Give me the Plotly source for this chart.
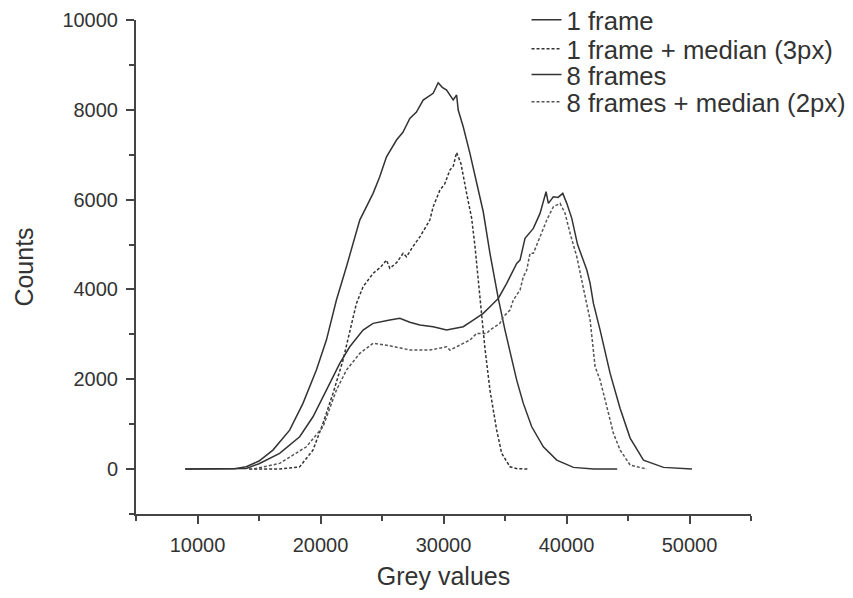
import plotly.graph_objects as go

# ---- data ----
series_names = ["1 frame", "1 frame + median (3px)", "8 frames", "8 frames + median (2px)"]

a_x = [9000, 12000, 13000, 13966, 15000, 16131, 17491, 18574, 19666, 20480, 21294, 22108, 22515, 23192,
       24275, 24800, 25366, 26180, 26700, 27263, 27800, 28346, 29160, 29567, 29900, 30251, 30789, 31066,
       31196, 31603, 32149, 32694, 33232, 33777, 34453, 34999, 35675, 35951, 36489, 37173, 38117, 39208,
       40560, 42189, 44120]
a_y = [0, 0, 10, 51, 180, 423, 868, 1463, 2205, 2873, 3764, 4505, 4877, 5545,
       6140, 6500, 6955, 7327, 7500, 7810, 7950, 8218, 8367, 8603, 8500, 8440, 8218, 8329,
       7995, 7623, 7030, 6400, 5730, 4804, 3800, 3095, 2278, 1982, 1463, 942, 497, 200,
       38, 0, 0]

c_x = [14200, 16677, 18306, 19389, 20203, 21017, 21832, 22377, 22923, 23460, 24275, 24900, 25366, 25635,
       26200, 26718, 26994, 27500, 28077, 28891, 29160, 29706, 30100, 30520, 30800, 31066, 31415, 31880,
       32287, 32556, 32825, 33102, 33370, 33777, 34323, 34730, 35406, 36000, 36896]
c_y = [0, 0, 50, 423, 1018, 1686, 2427, 3095, 3690, 4060, 4358, 4500, 4654, 4470,
       4600, 4804, 4728, 4950, 5170, 5545, 5842, 6210, 6350, 6659, 6750, 7050, 6808, 6140,
       5590, 4970, 4210, 3430, 2690, 1760, 869, 350, 51, 10, 0]

b_x = [9000, 12000, 13000, 13966, 15000, 16677, 18306, 19389, 20480, 21566, 22377, 23460, 24275, 24820,
       25635, 26450, 27263, 28077, 29160, 30251, 31603, 32417, 33232, 33777, 34453, 35137, 35951, 36221,
       36628, 37303, 37849, 38338, 38525, 38932, 39315, 39697, 40023, 40430, 40900, 41652, 41920, 42189,
       42733, 43546, 44360, 45175, 46258, 47887, 50200]
b_y = [0, 0, 5, 15, 120, 350, 720, 1165, 1760, 2354, 2724, 3095, 3245, 3280,
       3320, 3360, 3270, 3207, 3170, 3095, 3170, 3318, 3467, 3614, 3800, 4135, 4580, 4654,
       5138, 5360, 5694, 6176, 5917, 6064, 6050, 6140, 5917, 5583, 5000, 4432, 4135, 3690,
       3095, 2130, 1350, 690, 200, 38, 0]

d_x = [14200, 14503, 16677, 18851, 20203, 21294, 22108, 23192, 24275, 25366, 26450, 27263, 28077, 28891,
       30251, 30520, 31603, 32149, 32694, 33509, 33777, 34584, 34860, 35406, 35675, 36221, 36489, 36766,
       37034, 37303, 37849, 38394, 38932, 39478, 39885, 40292, 40837, 41376, 41920, 42327, 42733, 43280,
       43816, 44360, 44910, 45175, 46535]
d_y = [0, 0, 127, 497, 942, 1760, 2205, 2577, 2800, 2760, 2700, 2650, 2650, 2650,
       2724, 2650, 2800, 2873, 3022, 3022, 3095, 3245, 3392, 3541, 3764, 3986, 4283, 4432,
       4804, 4804, 5173, 5545, 5842, 5917, 5694, 5249, 4728, 4060, 3318, 2278, 1982, 1387,
       795, 423, 200, 89, 0]

x_major = [10000, 20000, 30000, 40000, 50000]
x_minor = [5000, 15000, 25000, 35000, 45000, 55000]
y_major = [0, 2000, 4000, 6000, 8000, 10000]
y_minor = [-1000, 1000, 3000, 5000, 7000, 9000]

INK = "#333333"
AX = "#444444"

fig = go.Figure()
styles = [dict(color=INK, width=1.5),
          dict(color=INK, width=1.5, dash="3px,2px"),
          dict(color=INK, width=1.5),
          dict(color="#555555", width=1.5, dash="3px,2px")]
legend_ids = ["legend", "legend2", "legend3", "legend4"]
for name, xs, ys, st, lg in zip(series_names, [a_x, c_x, b_x, d_x], [a_y, c_y, b_y, d_y], styles, legend_ids):
    fig.add_trace(go.Scatter(x=xs, y=ys, mode="lines", name=name, line=st, legend=lg))

axis_common = dict(showline=True, linecolor=AX, linewidth=2, ticks="outside", ticklen=8, tickwidth=2,
                   tickcolor=AX, showgrid=False, zeroline=False, tickfont=dict(size=20, color=INK),
                   ticklabelstandoff=4)

legend_rows = [1.0, 0.941, 0.889, 0.834]
legend_style = dict(x=0.635, xanchor="left", yanchor="middle", bgcolor="rgba(0,0,0,0)",
                    font=dict(size=25.7, color=INK))

fig.update_layout(
    width=853, height=598,
    margin=dict(l=136, r=102, t=20, b=84, autoexpand=False),
    paper_bgcolor="white", plot_bgcolor="white",
    font=dict(family="Liberation Sans, Arial, sans-serif", color=INK),
    xaxis=dict(range=[5000, 55000], tickmode="array", tickvals=x_major, ticktext=[str(v) for v in x_major],
               minor=dict(tickmode="array", tickvals=x_minor, ticklen=5, tickwidth=2, tickcolor=AX, ticks="outside"),
               title=dict(text="Grey values", font=dict(size=25, color=INK), standoff=12),
               **axis_common),
    yaxis=dict(range=[-1000, 10000], tickmode="array", tickvals=y_major, ticktext=[str(v) for v in y_major],
               minor=dict(tickmode="array", tickvals=y_minor, ticklen=5, tickwidth=2, tickcolor=AX, ticks="outside"),
               title=dict(text="Counts", font=dict(size=25, color=INK), standoff=22),
               **axis_common),
    legend=dict(y=legend_rows[0], **legend_style),
    legend2=dict(y=legend_rows[1], **legend_style),
    legend3=dict(y=legend_rows[2], **legend_style),
    legend4=dict(y=legend_rows[3], **legend_style),
    showlegend=True,
)

fig.write_html("out.html")
